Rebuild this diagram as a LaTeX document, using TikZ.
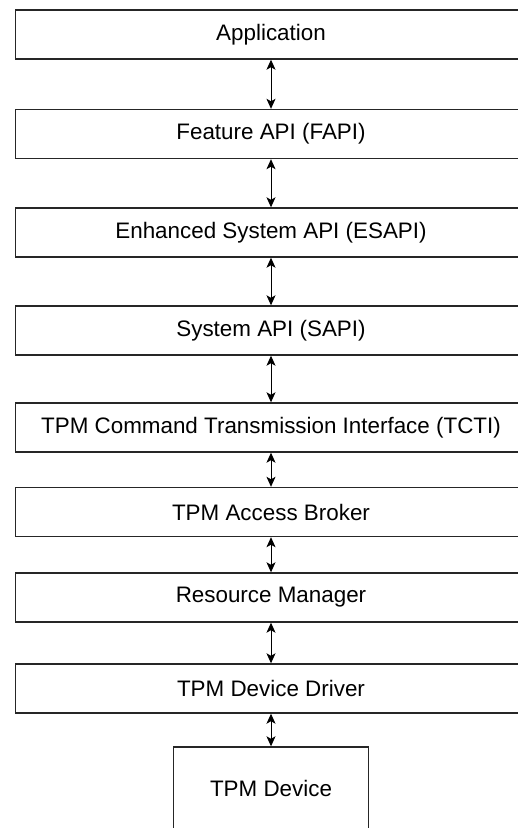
\documentclass[tikz,border=0pt]{standalone}
\usepackage{fontspec}
\setmainfont{Liberation Sans}
\usetikzlibrary{arrows.meta}
\begin{document}
\begin{tikzpicture}[x=1pt,y=-1pt,
  layer/.style={draw=black!85, line width=1.4pt, rectangle, minimum width=511pt, minimum height=49pt, inner sep=0pt, font=\fontsize{22.4}{26}\selectfont},
  devbox/.style={draw=black!85, line width=1.4pt, rectangle, minimum width=195pt, minimum height=82pt, inner sep=0pt, font=\fontsize{22.4}{26}\selectfont},
  link/.style={line width=1pt, {Stealth[length=10pt,width=9pt,inset=2.5pt]}-{Stealth[length=10pt,width=9pt,inset=2.5pt]}}]
\useasboundingbox (0,0) rectangle (518,828);
\clip (0,0) rectangle (518,828);
\fill[white] (0,0) rectangle (518,828);
\node[layer] (app)  at (271,34.5)  {Application};
\node[layer] (fapi) at (271,134)   {Feature API (FAPI)};
\node[layer] (esapi) at (271,232.5) {Enhanced System API (ESAPI)};
\node[layer] (sapi) at (271,330.5) {System API (SAPI)};
\node[layer] (tcti) at (271,427.5) {TPM Command Transmission Interface (TCTI)};
\node[layer] (tab)  at (271,512)   {TPM Access Broker};
\node[layer] (rm)   at (271,597.5) {Resource Manager};
\node[layer] (tdd)  at (271,688.5) {TPM Device Driver};
\node[devbox] (dev) at (271,788)   {TPM Device};
\draw[link] (app) -- (fapi);
\draw[link] (fapi) -- (esapi);
\draw[link] (esapi) -- (sapi);
\draw[link] (sapi) -- (tcti);
\draw[link] (tcti) -- (tab);
\draw[link] (tab) -- (rm);
\draw[link] (rm) -- (tdd);
\draw[link] (tdd) -- (dev);
\end{tikzpicture}
\end{document}
